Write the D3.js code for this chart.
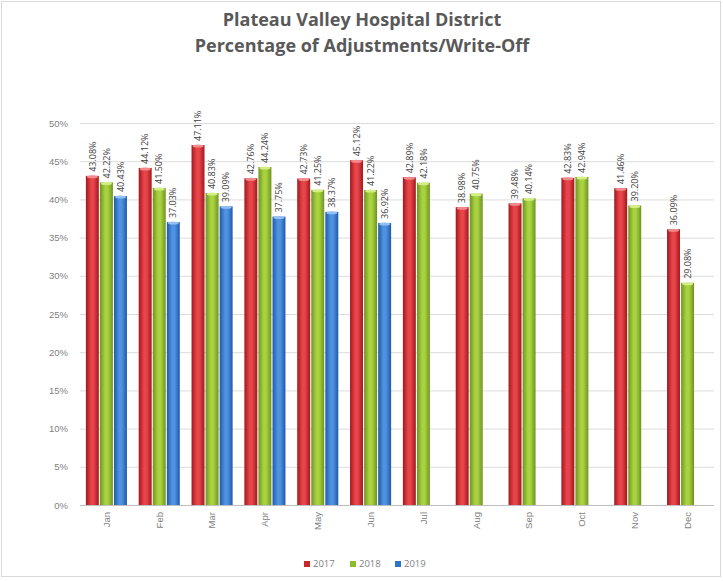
<!DOCTYPE html>
<html>
<head>
<meta charset="utf-8">
<script src="https://cdn.jsdelivr.net/npm/d3@7"></script>
<style>
  body { margin: 0; background: #fff; }
  svg { font-family: "Open Sans", "Liberation Sans", sans-serif; }
</style>
</head>
<body>
<svg id="chart" width="723" height="581"></svg>
<script>
// data
var months = ["Jan", "Feb", "Mar", "Apr", "May", "Jun", "Jul", "Aug", "Sep", "Oct", "Nov", "Dec"];
var years = ["2017", "2018", "2019"];
var v2017 = [43.08, 44.12, 47.11, 42.76, 42.73, 45.12, 42.89, 38.98, 39.48, 42.83, 41.46, 36.09];
var v2018 = [42.22, 41.50, 40.83, 44.24, 41.25, 41.22, 42.18, 40.75, 40.14, 42.94, 39.20, 29.08];
var v2019 = [40.43, 37.03, 39.09, 37.75, 38.37, 36.92, null, null, null, null, null, null];
var yTicks = [0, 5, 10, 15, 20, 25, 30, 35, 40, 45, 50];

var series = [v2017, v2018, v2019];
var colors = [
  {edge: "#a3171b", mid: "#e6454a", top: "#f08a8c", key: "#c8282d"},
  {edge: "#6f9420", mid: "#a9d241", top: "#d4ee86", key: "#8dba2e"},
  {edge: "#1f5aa8", mid: "#4f92e2", top: "#92c0f2", key: "#2f72c8"}
];

var svg = d3.select("#chart");

// frame
svg.append("rect")
  .attr("x", 1.5).attr("y", 1.5)
  .attr("width", 719).attr("height", 575)
  .attr("fill", "#fff")
  .attr("stroke", "#d9d9d9");

// title
var title = svg.append("text")
  .attr("x", 362).attr("text-anchor", "middle")
  .attr("fill", "#595959")
  .style("font-size", "18px").style("font-weight", "bold");
title.append("tspan").attr("x", 362).attr("y", 26).text("Plateau Valley Hospital District");
title.append("tspan").attr("x", 362).attr("y", 52).text("Percentage of Adjustments/Write-Off");

// scales
var x0 = d3.scaleBand()
  .domain(months)
  .range([80, 714])
  .paddingInner(0.18)
  .paddingOuter(0.09);

var x1 = d3.scaleBand()
  .domain(years)
  .range([0, x0.bandwidth()])
  .padding(0.08);

var y = d3.scaleLinear()
  .domain([0, 50])
  .range([505, 123]);

// gradients
var defs = svg.append("defs");
colors.forEach(function(c, i){
  var g = defs.append("linearGradient")
    .attr("id", "grad" + i)
    .attr("x1", "0%").attr("x2", "100%").attr("y1", "0%").attr("y2", "0%");
  g.append("stop").attr("offset", "0%").attr("stop-color", c.edge);
  g.append("stop").attr("offset", "40%").attr("stop-color", c.mid);
  g.append("stop").attr("offset", "60%").attr("stop-color", c.mid);
  g.append("stop").attr("offset", "100%").attr("stop-color", c.edge);
});

// grid + y axis
var yAxis = d3.axisLeft(y)
  .tickValues(yTicks)
  .tickSize(-(714 - 80))
  .tickPadding(12)
  .tickFormat(function(d){return d + "%";});

var ga = svg.append("g")
  .attr("transform", "translate(80,0)")
  .call(yAxis);
ga.select(".domain").remove();
ga.selectAll(".tick line").attr("stroke", "#dcdcdc");
ga.selectAll(".tick text")
  .attr("fill", "#7f7f7f")
  .style("font-size", "9.5px");

// x axis
var xAxis = d3.axisBottom(x0).tickSize(0).tickPadding(0);
var gx = svg.append("g")
  .attr("transform", "translate(0,505)")
  .call(xAxis);
gx.select(".domain").attr("stroke", "#bfbfbf").attr("d", "M80,0.5H714");
gx.selectAll(".tick text")
  .attr("fill", "#7f7f7f")
  .style("font-size", "9.5px")
  .attr("text-anchor", "end")
  .attr("dy", "0.35em")
  .attr("transform", "translate(0,7) rotate(-90)");

// bars
var rows = [];
months.forEach(function(m, i){
  series.forEach(function(s, j){
    if (s[i] != null) rows.push({month: m, year: years[j], k: j, value: s[i]});
  });
});

var bar = svg.append("g").selectAll("g")
  .data(rows).enter().append("g")
  .attr("transform", function(d){return "translate(" + (x0(d.month) + x1(d.year)) + ",0)";});

bar.append("rect")
  .attr("y", function(d){return y(d.value);})
  .attr("width", x1.bandwidth())
  .attr("height", function(d){return y(0) - y(d.value);})
  .attr("fill", function(d){return "url(#grad" + d.k + ")";});

bar.append("ellipse")
  .attr("cx", x1.bandwidth() / 2)
  .attr("cy", function(d){return y(d.value) + 1;})
  .attr("rx", x1.bandwidth() / 2 - 1)
  .attr("ry", 1.5)
  .attr("fill", function(d){return colors[d.k].top;});

// value labels
bar.append("text")
  .attr("transform", function(d){return "translate(" + (x1.bandwidth() / 2) + "," + (y(d.value) - 4) + ") rotate(-90)";})
  .attr("dy", "0.35em")
  .attr("fill", "#404040")
  .style("font-size", "9px")
  .text(function(d){return d.value.toFixed(2) + "%";});

// legend
var legendX = [304, 350, 395];
var leg = svg.append("g").selectAll("g")
  .data(years).enter().append("g")
  .attr("transform", function(d, i){return "translate(" + legendX[i] + ",561)";});

leg.append("rect")
  .attr("width", 6).attr("height", 6)
  .attr("fill", function(d, i){return colors[i].key;});

leg.append("text")
  .attr("x", 9).attr("y", 3)
  .attr("dy", "0.35em")
  .attr("fill", "#7f7f7f")
  .style("font-size", "9.5px")
  .text(function(d){return d;});
</script>
</body>
</html>
